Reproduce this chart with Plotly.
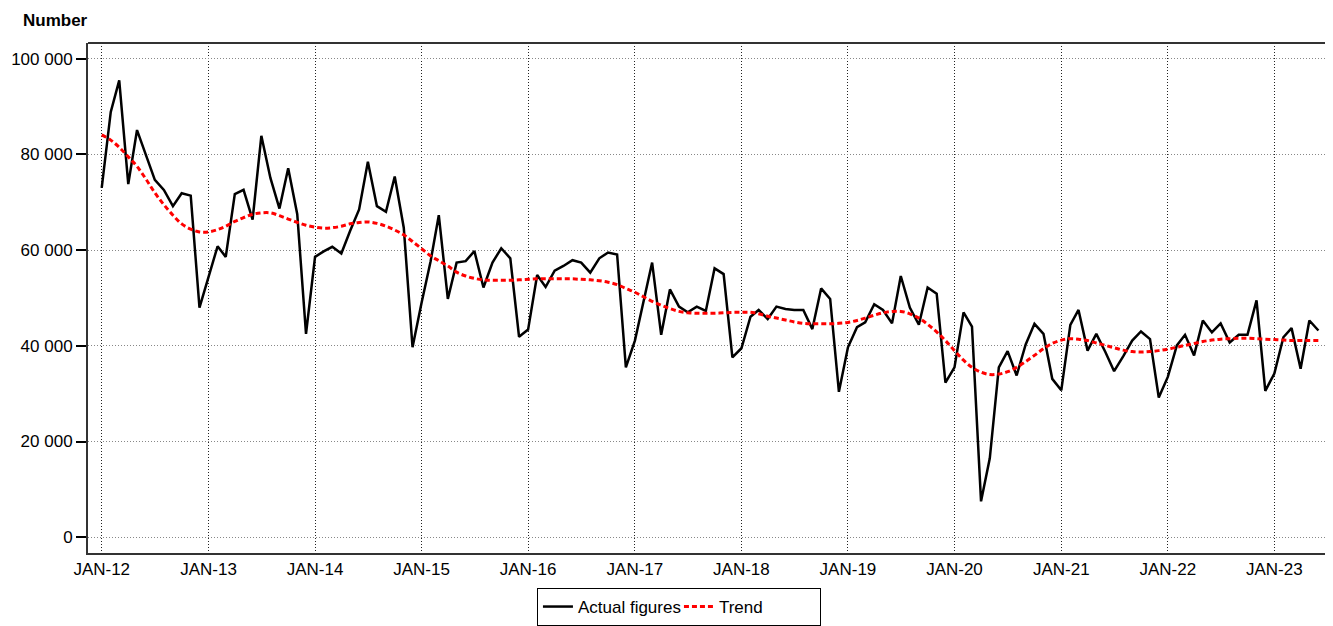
import pandas as pd
import plotly.graph_objects as go

# Monthly observations, Jan 2012 - Jun 2023
months = pd.date_range("2012-01-01", "2023-06-01", freq="MS")

actual = [
    73.0, 88.9, 95.5, 73.8, 85.1, 79.6, 74.7, 72.6, 69.2, 71.9, 71.4, 48.0,   # 2012
    54.6, 60.8, 58.6, 71.7, 72.6, 66.4, 83.9, 75.1, 68.7, 77.1, 67.5, 42.5,   # 2013
    58.6, 59.8, 60.7, 59.3, 64.0, 68.5, 78.5, 69.2, 68.0, 75.4, 64.7, 39.7,   # 2014
    49.0, 57.7, 67.3, 49.8, 57.4, 57.7, 59.8, 52.2, 57.4, 60.4, 58.3, 41.9,   # 2015
    43.4, 54.8, 52.3, 55.7, 56.7, 57.9, 57.4, 55.3, 58.3, 59.5, 59.1, 35.5,   # 2016
    41.1, 49.4, 57.4, 42.3, 51.8, 48.2, 47.0, 48.2, 47.3, 56.2, 55.0, 37.6,   # 2017
    39.5, 46.1, 47.5, 45.6, 48.2, 47.7, 47.5, 47.5, 43.5, 52.0, 49.8, 30.4,   # 2018
    39.7, 43.9, 44.9, 48.7, 47.5, 44.7, 54.6, 48.0, 44.4, 52.2, 50.9, 32.3,   # 2019
    35.5, 47.0, 44.0, 7.5, 16.5, 35.5, 38.9, 33.8, 40.3, 44.6, 42.5, 33.1,    # 2020
    30.7, 44.4, 47.5, 39.0, 42.5, 38.7, 34.7, 37.8, 41.1, 43.0, 41.4, 29.2,   # 2021
    33.5, 40.1, 42.3, 38.0, 45.3, 42.8, 44.7, 40.7, 42.3, 42.3, 49.5, 30.6,   # 2022
    34.2, 41.8, 43.7, 35.2, 45.3, 43.2,                                       # 2023
]

trend = [
    84.1, 83.0, 81.5, 79.5, 77.5, 74.8, 72.0, 69.5, 67.3, 65.5, 64.4, 63.8,
    63.8, 64.3, 65.0, 66.0, 66.8, 67.5, 67.8, 67.8, 67.2, 66.5, 65.8, 65.2,
    64.8, 64.6, 64.7, 65.0, 65.5, 65.8, 65.9, 65.6, 65.0, 64.2, 63.2, 61.8,
    60.3, 58.8, 57.8, 56.7, 55.4, 54.6, 54.1, 53.8, 53.7, 53.7, 53.7, 53.8,
    53.9, 54.0, 54.0, 54.0, 54.0, 54.0, 53.9, 53.8, 53.6, 53.3, 52.8, 52.0,
    51.2, 50.2, 49.3, 48.5, 47.8, 47.2, 46.9, 46.8, 46.8, 46.8, 46.9, 47.0,
    47.0, 47.0, 46.7, 46.2, 45.8, 45.4, 45.0, 44.7, 44.6, 44.6, 44.6, 44.7,
    44.9, 45.3, 45.8, 46.4, 46.9, 47.2, 47.2, 46.7, 45.8, 44.5, 42.9, 41.1,
    39.0, 37.0, 35.5, 34.5, 34.0, 34.1, 34.6, 35.5, 36.7, 38.0, 39.4, 40.5,
    41.2, 41.5, 41.4, 41.1, 40.6, 40.1, 39.6, 39.1, 38.8, 38.7, 38.8, 39.0,
    39.3, 39.7, 40.1, 40.5, 40.9, 41.2, 41.4, 41.5, 41.6, 41.6, 41.5, 41.4,
    41.3, 41.2, 41.1, 41.1, 41.1, 41.1,
]

tick_dates = ["2012-01-01", "2013-01-01", "2014-01-01", "2015-01-01", "2016-01-01",
              "2017-01-01", "2018-01-01", "2019-01-01", "2020-01-01", "2021-01-01",
              "2022-01-01", "2023-01-01"]
tick_labels = ["JAN-12", "JAN-13", "JAN-14", "JAN-15", "JAN-16", "JAN-17",
               "JAN-18", "JAN-19", "JAN-20", "JAN-21", "JAN-22", "JAN-23"]
y_ticks = [0, 20000, 40000, 60000, 80000, 100000]

FONT = "Liberation Sans, Arial, sans-serif"

fig = go.Figure()
fig.add_trace(go.Scatter(
    x=months, y=[v * 1000 for v in actual], mode="lines", name="Actual figures",
    line=dict(color="#000000", width=2.5),
))
fig.add_trace(go.Scatter(
    x=months, y=[v * 1000 for v in trend], mode="lines", name="Trend",
    line=dict(color="#ff0000", width=3, dash="5px,3px", shape="spline"),
))

fig.update_layout(
    width=1325, height=618,
    margin=dict(l=80, r=0, t=35, b=69),
    paper_bgcolor="white", plot_bgcolor="white",
    font=dict(family=FONT, size=17, color="#000000"),
    separators=". ",
    showlegend=True,
    legend=dict(
        orientation="h", x=0.3606, xanchor="left", y=-0.0695, yanchor="top",
        bordercolor="#000000", borderwidth=1, bgcolor="white",
        font=dict(family=FONT, size=17, color="#000000"),
        tracegroupgap=0, itemwidth=30, entrywidth=96, entrywidthmode="pixels",
    ),
    xaxis=dict(
        type="date", range=["2011-11-15", "2023-07-21"],
        tickvals=tick_dates, ticktext=tick_labels, ticks="",
        showgrid=True, gridcolor="#222222", gridwidth=1, griddash="1px,2px",
        showline=True, linecolor="#333333", linewidth=2,
        zeroline=False, tickfont=dict(size=17),
    ),
    yaxis=dict(
        range=[-3300, 103300], tickvals=y_ticks, tickformat=",d",
        ticks="outside", ticklen=10, tickwidth=1.5, tickcolor="#000000",
        showgrid=True, gridcolor="#888888", gridwidth=1, griddash="1px,2px",
        showline=True, linecolor="#333333", linewidth=2,
        zeroline=False, tickfont=dict(size=17),
    ),
)

# top border of the frame
fig.add_shape(type="line", xref="paper", yref="paper", x0=0, x1=1, y0=1, y1=1,
              line=dict(color="#333333", width=2))

fig.add_annotation(
    text="<b>Number</b>", xref="paper", yref="paper",
    x=-0.054, y=1.0447, xanchor="left", yanchor="middle",
    showarrow=False, font=dict(family=FONT, size=17, color="#000000"),
)

fig.write_html("out.html")
